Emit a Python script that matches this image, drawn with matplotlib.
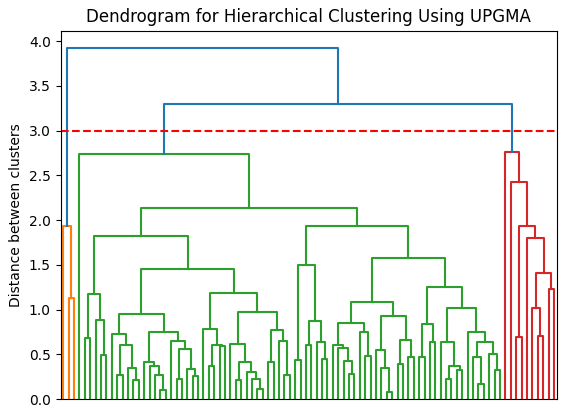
import matplotlib
matplotlib.use("Agg")
import matplotlib.pyplot as plt

# Tree: every merge is [left, right, height], a leaf is L
L = None

orange = [L, [L, L, 1.13], 1.93]

g_118 = [[L, L, 0.68], [L, [L, L, 0.49], 0.88], 1.18]
g_073 = [L, [[L, L, 0.27], [L, [L, L, 0.21], 0.35], 0.60], 0.73]
g_042 = [L, [L, [L, [L, L, 0.10], 0.27], 0.37], 0.42]
g_0645 = [L, [[L, L, 0.23], [L, [L, L, 0.26], 0.34], 0.56], 0.645]
g_078 = [L, [[L, L, 0.37], [L, L, 0.595], 0.61], 0.78]
g_062 = [L, [[L, L, 0.21], [L, [L, [L, L, 0.11], 0.23], 0.30], 0.41], 0.62]
g_077 = [[L, L, 0.41], [L, [L, L, 0.27], 0.655], 0.77]
g_150 = [[L, L, 0.44], [[L, L, 0.61], [L, [L, L, 0.45], 0.64], 0.87], 1.50]
g_085 = [[L, [L, [L, [L, L, 0.28], 0.43], 0.57], 0.61], [L, [L, L, 0.48], 0.755], 0.85]
g_093 = [[L, [L, [L, L, 0.08], 0.35], 0.55], [[L, L, 0.39], [L, L, 0.47], 0.66], 0.93]
g_084 = [[L, L, 0.47], [L, L, 0.64], 0.84]
g_102 = [[L, [[L, L, 0.23], [L, L, 0.33], 0.37], 0.64],
         [L, [[L, [L, L, 0.17], 0.47], [L, [L, L, 0.33], 0.51], 0.64], 0.75], 1.02]

g_182 = [g_118, [[g_073, [g_042, g_0645, 0.755], 0.95],
                 [g_078, [g_062, g_077, 0.97], 1.185], 1.45], 1.82]
g_194 = [g_150, [[g_085, g_093, 1.09], [g_084, g_102, 1.25], 1.575], 1.94]
green = [L, [g_182, g_194, 2.13], 2.74]

red = [L, [L, [[L, L, 0.70],
               [L, [[L, [L, L, 0.71], 1.02], [L, L, 1.23], 1.415], 1.80], 1.93], 2.43], 2.76]

tree = [orange, [green, red, 3.30], 3.92]

threshold = 3.0
cluster_colors = ['C1', 'C2', 'C3']
above_color = 'C0'


def count_leaves(node):
    if node is None:
        return 1
    return count_leaves(node[0]) + count_leaves(node[1])


segments = []
state = {'leaf': 0, 'cluster': 0}


def walk(node, color):
    # returns (x, height) of the node, scipy-style leaf spacing of 10
    if node is None:
        x = 5 + 10 * state['leaf']
        state['leaf'] += 1
        return x, 0.0
    left, right, h = node
    if color is None and h <= threshold:
        color = cluster_colors[state['cluster'] % len(cluster_colors)]
        state['cluster'] += 1
    xl, hl = walk(left, color)
    xr, hr = walk(right, color)
    segments.append(([xl, xl, xr, xr], [hl, h, h, hr], color or above_color))
    return (xl + xr) / 2, h


n_leaves = count_leaves(tree)
walk(tree, None)

fig = plt.figure(figsize=(5.67, 4.18), dpi=100)
ax = fig.add_axes([0.1069, 0.045, 0.8748, 0.8816])

for xs, ys, c in segments:
    ax.plot(xs, ys, color=c, linewidth=1.5)

ax.axhline(y=threshold, color='r', linestyle='--')
ax.set_xlim(0, 10 * n_leaves)
ax.set_ylim(0, tree[2] * 1.05)
ax.set_xticks([])
ax.set_title("Dendrogram for Hierarchical Clustering Using UPGMA")
ax.set_ylabel("Distance between clusters")

fig.savefig("out.png", dpi=100)
